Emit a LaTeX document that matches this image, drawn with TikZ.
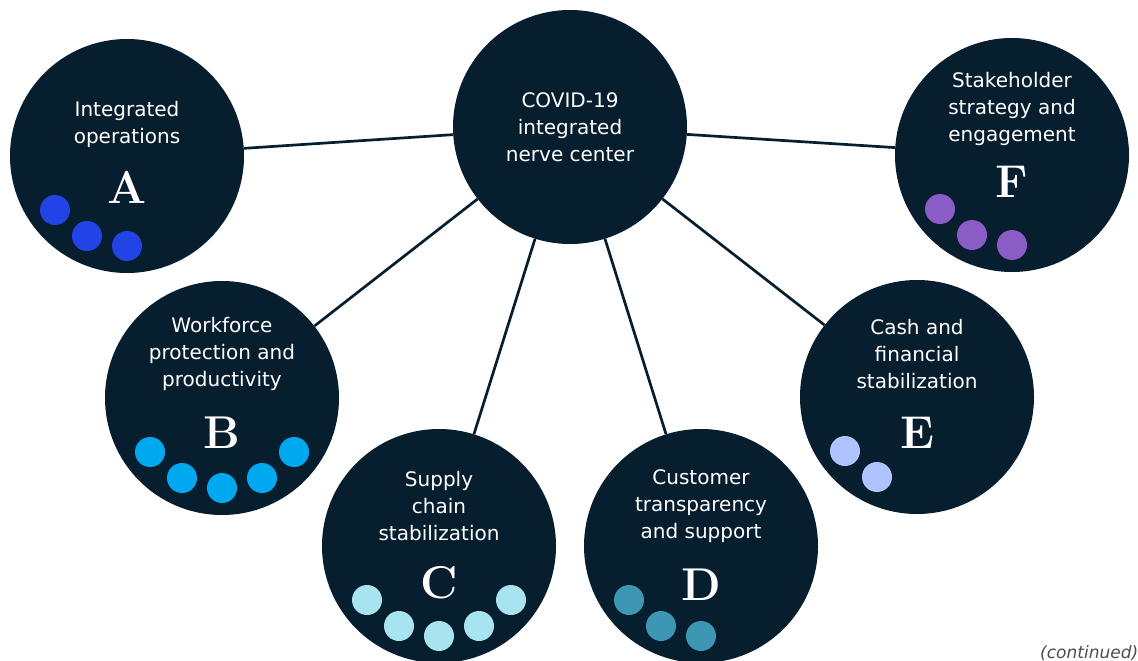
\documentclass[tikz,border=0pt]{standalone}
\usepackage{fontspec}
\newfontfamily\labelfont{DejaVu Sans}
\usetikzlibrary{positioning,calc}
\definecolor{navy}{HTML}{061E2E}
\definecolor{dotA}{HTML}{2243E6}
\definecolor{dotB}{HTML}{00A8F0}
\definecolor{dotC}{HTML}{A8E4EF}
\definecolor{dotD}{HTML}{3C96B4}
\definecolor{dotE}{HTML}{AFC3FF}
\definecolor{dotF}{HTML}{8B5BC6}
\tikzstyle{bignode}=[circle,fill=navy,minimum size=234pt,inner sep=0pt]
\tikzstyle{caption}=[text=white,align=center,inner sep=0pt,font=\labelfont\fontsize{20}{27}\selectfont]
\tikzstyle{letter}=[text=white,inner sep=0pt,font=\bfseries\fontsize{46}{46}\selectfont]
\tikzstyle{smalldot}=[circle,minimum size=30pt,inner sep=0pt]

\begin{document}
\begin{tikzpicture}[x=1pt,y=-1pt]
  \useasboundingbox (0,0) rectangle (1138,661);

  \node(hub)[bignode] at (570,127) {};
  \node(A)[bignode] at (127,156) {};
  \node(B)[bignode] at (222,398) {};
  \node(C)[bignode] at (439,546) {};
  \node(D)[bignode] at (701,546) {};
  \node(E)[bignode] at (917,397) {};
  \node(F)[bignode] at (1012,155) {};

  \path[draw,navy,line width=2.7pt]
    (hub) edge (A)
    (hub) edge (B)
    (hub) edge (C)
    (hub) edge (D)
    (hub) edge (E)
    (hub) edge (F);

  \node(hub-txt)[caption] at (hub) {COVID-19\\integrated\\nerve center};

  \node(A-txt)[caption] at ($(A)+(0,-32)$) {Integrated\\operations};
  \node(A-let)[letter] at ($(A)+(0,31)$) {A};
  \node(A-1)[smalldot,fill=dotA] at ($(A)+(-72,54)$) {};
  \node(A-2)[smalldot,fill=dotA] at ($(A)+(-40,80)$) {};
  \node(A-3)[smalldot,fill=dotA] at ($(A)+(0,90)$) {};

  \node(B-txt)[caption] at ($(B)+(0,-44)$) {Workforce\\protection and\\productivity};
  \node(B-let)[letter] at ($(B)+(0,35)$) {B};
  \node(B-1)[smalldot,fill=dotB] at ($(B)+(-72,54)$) {};
  \node(B-2)[smalldot,fill=dotB] at ($(B)+(-40,80)$) {};
  \node(B-3)[smalldot,fill=dotB] at ($(B)+(0,90)$) {};
  \node(B-4)[smalldot,fill=dotB] at ($(B)+(40,80)$) {};
  \node(B-5)[smalldot,fill=dotB] at ($(B)+(72,54)$) {};

  \node(C-txt)[caption] at ($(C)+(0,-40)$) {Supply\\chain\\stabilization};
  \node(C-let)[letter] at ($(C)+(0,37)$) {C};
  \node(C-1)[smalldot,fill=dotC] at ($(C)+(-72,54)$) {};
  \node(C-2)[smalldot,fill=dotC] at ($(C)+(-40,80)$) {};
  \node(C-3)[smalldot,fill=dotC] at ($(C)+(0,90)$) {};
  \node(C-4)[smalldot,fill=dotC] at ($(C)+(40,80)$) {};
  \node(C-5)[smalldot,fill=dotC] at ($(C)+(72,54)$) {};

  \node(D-txt)[caption] at ($(D)+(0,-40)$) {Customer\\transparency\\and support};
  \node(D-let)[letter] at ($(D)+(0,39)$) {D};
  \node(D-1)[smalldot,fill=dotD] at ($(D)+(-72,54)$) {};
  \node(D-2)[smalldot,fill=dotD] at ($(D)+(-40,80)$) {};
  \node(D-3)[smalldot,fill=dotD] at ($(D)+(0,90)$) {};

  \node(E-txt)[caption] at ($(E)+(0,-43)$) {Cash and\\financial\\stabilization};
  \node(E-let)[letter] at ($(E)+(0,36)$) {E};
  \node(E-1)[smalldot,fill=dotE] at ($(E)+(-72,54)$) {};
  \node(E-2)[smalldot,fill=dotE] at ($(E)+(-40,80)$) {};

  \node(F-txt)[caption] at ($(F)+(0,-46)$) {Stakeholder\\strategy and\\engagement};
  \node(F-let)[letter] at ($(F)+(0,27)$) {F};
  \node(F-1)[smalldot,fill=dotF] at ($(F)+(-72,54)$) {};
  \node(F-2)[smalldot,fill=dotF] at ($(F)+(-40,80)$) {};
  \node(F-3)[smalldot,fill=dotF] at ($(F)+(0,90)$) {};

  \node(cont)[anchor=west,inner sep=0pt,text=black!70,font=\labelfont\itshape\fontsize{17}{17}\selectfont] at (1040,653) {(continued)};
\end{tikzpicture}
\end{document}
